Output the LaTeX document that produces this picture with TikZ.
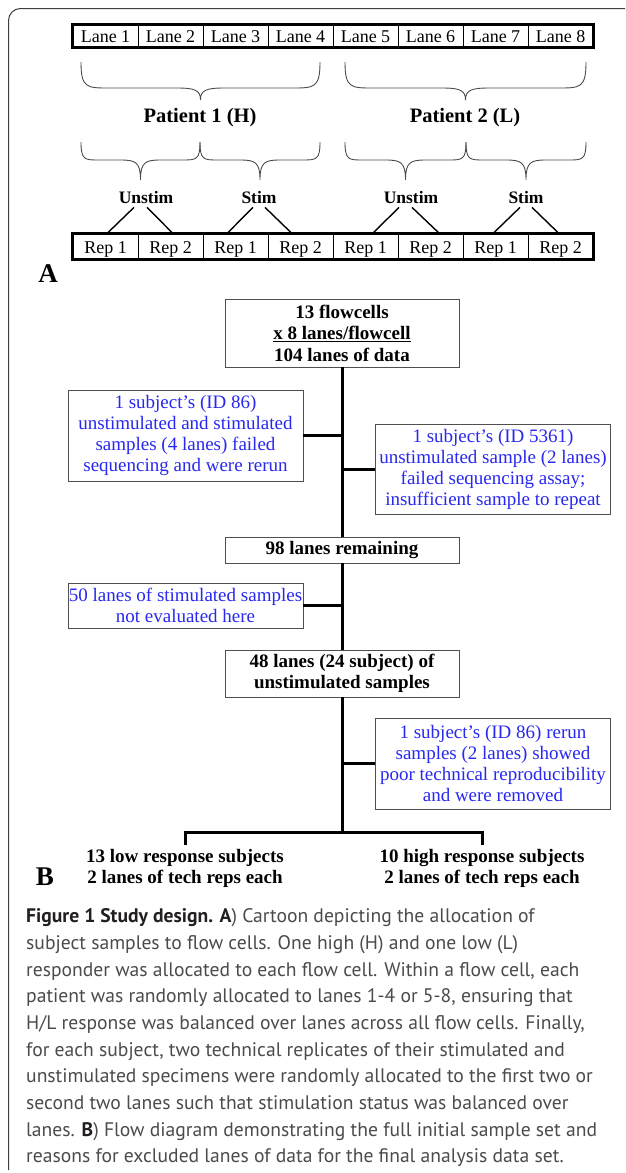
\documentclass[tikz,border=0pt]{standalone}
\usepackage{fontspec}
\setmainfont{Liberation Serif}
\newfontfamily\capfont{PT Sans}
\usetikzlibrary{calc}
\definecolor{bluetxt}{RGB}{40,40,240}
\definecolor{capgray}{RGB}{75,75,75}
\definecolor{capdark}{RGB}{35,31,32}
\definecolor{boxline}{RGB}{80,80,80}
\newcommand\drawbrace[7]{%
  \draw[bracestyle] (#1,#3) .. controls (#1,#4) and (#1+#6*0.2,#4) .. (#1+#6,#4)
    -- ({(#1+#2)/2-#7},#4) .. controls ({(#1+#2)/2-#7*0.25},#4) and ({(#1+#2)/2},#4+2) .. ({(#1+#2)/2},#5)
    .. controls ({(#1+#2)/2},#4+2) and ({(#1+#2)/2+#7*0.25},#4) .. ({(#1+#2)/2+#7},#4)
    -- (#2-#6,#4) .. controls (#2-#6*0.2,#4) and (#2,#4) .. (#2,#3);}
\begin{document}
\begin{tikzpicture}[x=1pt,y=-1pt,
  cell/.style={draw, line width=0.9pt, minimum width=65pt, inner sep=0pt, text height=13pt, text depth=0pt, font=\fontsize{18}{20}\selectfont},
  outer/.style={line width=2.6pt},
  bracestyle/.style={line width=0.9pt, black!70},
  pat/.style={anchor=base, inner sep=0pt, font=\fontsize{20.5}{22}\selectfont\bfseries},
  lab/.style={anchor=base, inner sep=0pt, font=\fontsize{17.5}{20}\selectfont\bfseries},
  leg/.style={line width=1.4pt},
  letter/.style={anchor=base, inner sep=0pt, font=\fontsize{27}{27}\selectfont\bfseries},
  fbox/.style={draw=boxline, line width=0.9pt, align=center, inner sep=0pt, minimum width=234pt, font=\fontsize{19}{21.5}\selectfont\bfseries},
  bbox/.style={draw=boxline, line width=0.9pt, align=center, inner sep=0pt, minimum width=235pt, text=bluetxt, font=\fontsize{19}{21}\selectfont},
  endtxt/.style={align=center, inner sep=0pt, font=\fontsize{19}{21}\selectfont\bfseries},
  spine/.style={line width=3pt},
  captxt/.style={anchor=base west, inner sep=0pt, text=capgray, font=\capfont\fontsize{19.6}{26}\selectfont}
]
\useasboundingbox (0,0) rectangle (625,1173);
\fill[white] (0,0) rectangle (625,1173);
% frame
\draw[line width=1pt, black!75, rounded corners=12pt] (625,8.5) -- (8.5,8.5) -- (8.5,1170);

% lanes row
\foreach \i in {1,...,8}{
  \node[cell, minimum height=22pt] (L\i) at ({105.5+65*(\i-1)},36) {Lane \i};
}
\draw[outer] (L1.north west) rectangle (L8.south east);

% big braces
\drawbrace{81}{320}{62}{88}{100}{28}{24}
\drawbrace{345}{586}{62}{88}{100}{28}{24}
\node[pat] (p1) at (200,122) {Patient 1 (H)};
\node[pat] (p2) at (465,122) {Patient 2 (L)};

% small braces
\drawbrace{81}{200}{142}{160}{180}{18}{20}
\drawbrace{200}{320}{142}{160}{180}{18}{20}
\drawbrace{345}{466}{142}{160}{180}{18}{20}
\drawbrace{466}{586}{142}{160}{180}{18}{20}

\node[lab] (u1) at (146,203) {Unstim};
\node[lab] (s1) at (259,203) {Stim};
\node[lab] (u2) at (411,203) {Unstim};
\node[lab] (s2) at (526,203) {Stim};

% reps row
\foreach \i/\t in {1/Rep 1,2/Rep 2,3/Rep 1,4/Rep 2,5/Rep 1,6/Rep 2,7/Rep 1,8/Rep 2}{
  \node[cell, minimum height=25pt] (R\i) at ({105.5+65*(\i-1)},246.5) {\t};
}
\draw[outer] (R1.north west) rectangle (R8.south east);

\draw[leg] ($(u1.south)+(-12,4)$) -- ($(R1.north)+(1.5,0)$);
\draw[leg] ($(u1.south)+(1,4)$) -- ($(R2.north)+(2.5,0)$);
\draw[leg] ($(s1.south)+(-6,4)$) -- ($(R3.north)+(-8.5,0)$);
\draw[leg] ($(s1.south)+(6,4)$) -- ($(R4.north)+(-8.5,0)$);
\draw[leg] ($(u2.south)+(-12,4)$) -- ($(R5.north)+(7,0)$);
\draw[leg] ($(u2.south)+(1,4)$) -- ($(R6.north)+(9,0)$);
\draw[leg] ($(s2.south)+(-6,4)$) -- ($(R7.north)+(-2.5,0)$);
\draw[leg] ($(s2.south)+(6,4)$) -- ($(R8.north)+(-1.5,0)$);

\node[letter] (A) at (48,282) {A};

% flow chart
\node[fbox, minimum height=68pt] (n1) at (342,333) {13 flowcells\\\underline{x 8 lanes/flowcell}\\104 lanes of data};
\node[bbox, minimum height=91pt] (b1) at (185.5,435.5) {1 subject's (ID 86)\\unstimulated and stimulated\\samples (4 lanes) failed\\sequencing and were rerun};
\node[bbox, minimum height=90pt] (b2) at (493,469) {1 subject's (ID 5361)\\unstimulated sample (2 lanes)\\failed sequencing assay;\\insufficient sample to repeat};
\node[fbox, minimum height=26pt] (n2) at (342,550) {98 lanes remaining};
\node[bbox, minimum height=45pt] (b3) at (185.5,605.5) {50 lanes of stimulated samples\\not evaluated here};
\node[fbox, minimum height=47pt] (n3) at (342,673.5) {48 lanes (24 subject) of\\unstimulated samples};
\node[bbox, minimum height=91pt] (b4) at (493,763.5) {1 subject's (ID 86) rerun\\samples (2 lanes) showed\\poor technical reproducibility\\and were removed};

\coordinate (bar) at (342,832);
\draw[spine] (n1.south) -- (n2.north);
\draw[spine] (n2.south) -- (n3.north);
\draw[spine] (n3.south) -- (bar);
\draw[spine] (b1.east) -- (b1.east -| n1.south);
\draw[spine] (b2.west) -- (b2.west -| n1.south);
\draw[spine] (b3.east) -- (b3.east -| n2.south);
\draw[spine] (b4.west) -- (b4.west -| n3.south);

\node[endtxt] (t1) at (185,868) {13 low response subjects\\2 lanes of tech reps each};
\node[endtxt] (t2) at (482,868) {10 high response subjects\\2 lanes of tech reps each};
\coordinate (bl) at (185,845);
\coordinate (br) at (482,845);
\draw[spine] (bl) -- (bl |- bar) -- (br |- bar) -- (br);

\node[letter] (B) at (45,885) {B};

% caption
\node[captxt] (c1) at (26,922.7) {\textcolor{capdark}{\bfseries Figure 1 Study design. A}) Cartoon depicting the allocation of};
\node[captxt] (c2) at (26,949.4) {subject samples to flow cells. One high (H) and one low (L)};
\node[captxt] (c3) at (26,976.0) {responder was allocated to each flow cell. Within a flow cell, each};
\node[captxt] (c4) at (26,1002.7) {patient was randomly allocated to lanes 1-4 or 5-8, ensuring that};
\node[captxt] (c5) at (26,1029.4) {H/L response was balanced over lanes across all flow cells. Finally,};
\node[captxt] (c6) at (26,1056.1) {for each subject, two technical replicates of their stimulated and};
\node[captxt] (c7) at (26,1082.7) {unstimulated specimens were randomly allocated to the first two or};
\node[captxt] (c8) at (26,1109.4) {second two lanes such that stimulation status was balanced over};
\node[captxt] (c9) at (26,1136.1) {lanes. \textcolor{capdark}{\bfseries B}) Flow diagram demonstrating the full initial sample set and};
\node[captxt] (c10) at (26,1162.7) {reasons for excluded lanes of data for the final analysis data set.};
\end{tikzpicture}
\end{document}
